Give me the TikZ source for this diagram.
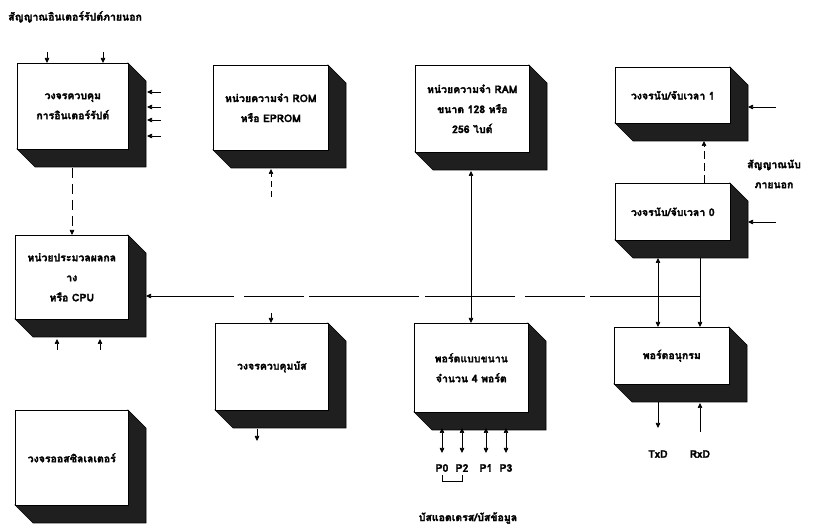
\documentclass[tikz,border=0pt]{standalone}
\usepackage{fontspec}
\newfontfamily\thaifont[Script=Thai,FakeBold=2]{Loma}
\usetikzlibrary{arrows.meta}
\newcommand\mkbox[6]{%
  \pgfmathsetmacro\xa{#2}\pgfmathsetmacro\ya{#3}%
  \pgfmathsetmacro\xb{#2+#4}\pgfmathsetmacro\yb{#3+#5}%
  \pgfmathsetmacro\xc{#2+#4+18}\pgfmathsetmacro\yc{#3+#5+18}%
  \pgfmathsetmacro\xd{#2+18}\pgfmathsetmacro\yd{#3+18}%
  \fill[shd] (\xa,\yb) -- (\xd,\yc) -- (\xc,\yc) -- (\xc,\yd) -- (\xb,\ya) -- (\xb,\yb) -- cycle;
  \node[blk, minimum width=#4pt, minimum height=#5pt] (#1) at (#2,#3) {#6};
}
\begin{document}
\begin{tikzpicture}[x=1pt,y=-1pt,
  blk/.style={draw=black, line width=0.6pt, fill=white, anchor=north west, inner sep=0pt,
    align=center, font=\thaifont\bfseries\fontsize{10.5}{20}\selectfont},
  shd/.style={fill=black!88, draw=black, line width=0.6pt},
  lbl/.style={font=\thaifont\bfseries\fontsize{10.5}{20}\selectfont, inner sep=0pt, align=center},
  tip/.style={-{Triangle[length=5pt,width=4.5pt]}},
  dtip/.style={{Triangle[length=5pt,width=4.5pt]}-{Triangle[length=5pt,width=4.5pt]}},
  wire/.style={line width=0.7pt},
  bus/.style={line width=0.7pt, dash pattern=on 110pt off 5pt on 60pt off 10pt on 90pt off 6pt}
]
\useasboundingbox (0,0) rectangle (815,526);
\fill[white] (0,0) rectangle (815,526);

% title
\node[lbl, anchor=west] (title) at (8,17) {สัญญาณอินเตอร์รัปต์ภายนอก};

% boxes
\mkbox{intc}{17}{63}{111}{86}{วงจรควบคุม\\การอินเตอร์รัปต์}
\mkbox{rom}{213}{65}{115}{85}{หน่วยความจำ ROM\\หรือ EPROM}
\mkbox{ram}{415}{65}{114}{87}{หน่วยความจำ RAM\\ขนาด 128 หรือ\\256 ไบต์}
\mkbox{tone}{615}{67}{115}{56}{วงจรนับ/จับเวลา 1}
\mkbox{tzero}{615}{183}{115}{57}{วงจรนับ/จับเวลา 0}
\mkbox{cpu}{15}{235}{113}{84}{หน่วยประมวลผลกล\\าง\\หรือ CPU}
\mkbox{busc}{215}{323}{113}{87}{วงจรควบคุมบัส}
\mkbox{par}{414}{323}{114}{89}{พอร์ตแบบขนาน\\จำนวน 4 พอร์ต}
\mkbox{ser}{614}{327}{115}{57}{พอร์ตอนุกรม}
\mkbox{osc}{15}{410}{113}{95}{วงจรออสซิลเลเตอร์}

% labels
\node[lbl] (cnt) at (774,174) {สัญญาณนับ\\ภายนอก};
\node[lbl] (txd) at (658,454) {TxD};
\node[lbl] (rxd) at (700,454) {RxD};
\node[lbl] (p0) at (442,468) {P0};
\node[lbl] (p2) at (462,468) {P2};
\node[lbl] (p1) at (486,468) {P1};
\node[lbl] (p3) at (506,468) {P3};
\node[lbl] (adb) at (468,518) {บัสแอดเดรส/บัสข้อมูล};

% coordinates
\coordinate (ia) at (47,52);  \coordinate (ib) at (103,52);
\coordinate (r1) at (161,92); \coordinate (r2) at (161,107);
\coordinate (r3) at (161,120); \coordinate (r4) at (161,136);
\coordinate (romst) at (271,197);
\coordinate (busst) at (271,313);
\coordinate (bcbot) at (257,441);
\coordinate (c1) at (57,350); \coordinate (c2) at (100,350);
\coordinate (e1) at (776,107); \coordinate (e0) at (776,222);
\coordinate (busend) at (700,296);
\coordinate (txe) at (658,428); \coordinate (rxe) at (700,432);

% interrupt inputs
\draw[wire,tip] (ia) -- (ia |- intc.north);
\draw[wire,tip] (ib) -- (ib |- intc.north);
\foreach \r in {r1,r2,r3,r4} \draw[wire,tip] (\r) -- ++(-14,0);

% intc -> cpu
\draw[wire,tip,dash pattern=on 10pt off 6pt] (72,168) -- (cpu.north -| 72,0);

% ROM stub
\draw[wire,tip,dash pattern=on 6pt off 4pt] (romst) -- (271,169);
% bus control stubs
\draw[wire,tip] (busst) -- (busc.north -| busst);
\draw[wire,tip] (257,429) -- (bcbot);

% RAM <-> parallel port
\draw[wire,dtip] (471,171) -- (par.north -| 471,0);

% internal bus
\draw[bus,tip] (busend) -- (146,296);

% CPU bottom
\draw[wire,tip] (c1) -- (57,339);
\draw[wire,tip] (c2) -- (100,339);

% timers
\draw[wire,tip,dash pattern=on 8pt off 4pt] (tzero.north -| 704,0) -- (704,141);
\draw[wire,tip] (e1) -- (748,107);
\draw[wire,tip] (e0) -- (748,222);

% timer0 <-> serial
\draw[wire,dtip] (658,258) -- (ser.north -| 658,0);
\draw[wire,tip] (700,258) -- (ser.north -| 700,0);

% serial lines
\draw[wire,tip] (658,402) -- (txe);
\draw[wire,tip] (rxe) -- (700,403);

% port lines
\foreach \x in {442,462,486,506} \draw[wire,dtip] (\x,428) -- (\x,453);
\draw[wire] (442,475) -- (442,481) -- (462,481) -- (462,475);
\end{tikzpicture}
\end{document}
